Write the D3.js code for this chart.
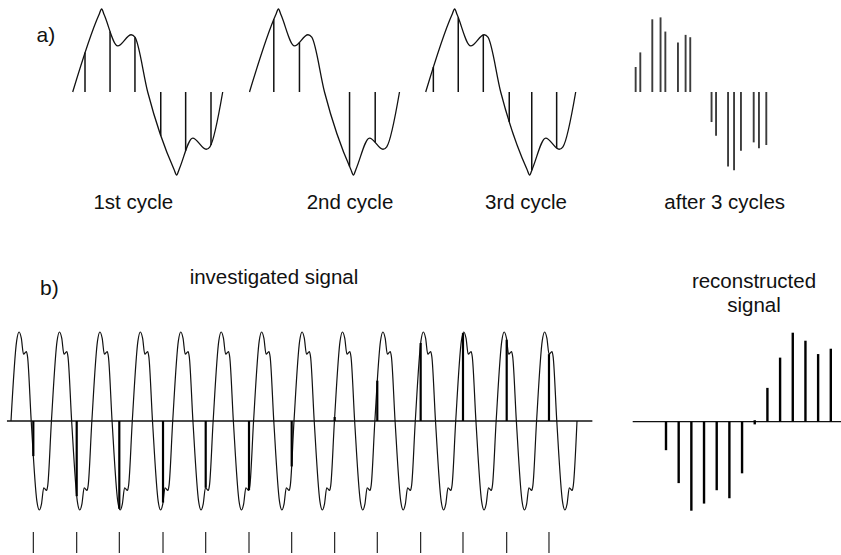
<!DOCTYPE html>
<html><head><meta charset="utf-8">
<script src="https://cdn.jsdelivr.net/npm/d3@7"></script>
<style>
body{margin:0;background:#fff}
svg text{font-family:"Liberation Sans",Arial,Helvetica,sans-serif;fill:#111}
</style>
</head><body>
<svg id="chart" width="841" height="555"></svg>
<script>
// ---------- data ----------
const cycleLabels = ["1st cycle", "2nd cycle", "3rd cycle", "after 3 cycles"];
// one period of the waveform in panel a) : phase (fraction of period) and value
const aPhase = [0, 0.175, 0.193, 0.21, 0.30, 0.39, 0.415, 0.5, 0.675, 0.693, 0.71, 0.80, 0.89, 0.915, 1.0];
const aValue = [0, 0.93, 1.0, 0.93, 0.555, 0.69, 0.66, 0, -0.93, -1.0, -0.93, -0.555, -0.69, -0.66, 0];
// sampling instants (phase) in each of the 3 cycles
const cycle1Samples = [0.082, 0.249, 0.415, 0.587, 0.753, 0.922];
const cycle2Samples = [0.162, 0.333, 0.667, 0.838];
const cycle3Samples = [0.051, 0.217, 0.384, 0.557, 0.707, 0.873];
// one period of the investigated signal in panel b)
const bPhase = [0, 0.14, 0.2, 0.255, 0.31, 0.38, 0.41, 0.5, 0.64, 0.7, 0.755, 0.81, 0.88, 0.91, 1.0];
const bValue = [0, 0.9, 1.0, 0.93, 0.75, 0.78, 0.72, 0, -0.9, -1.0, -0.93, -0.75, -0.78, -0.72, 0];
const bPeriods = 14;
// trigger / sampling times in panel b) (in signal periods)
const triggerTimes = [0.552, 1.625, 2.679, 3.760, 4.816, 5.887, 6.943, 8.006, 9.060, 10.133, 11.180, 12.261, 13.307];
// reconstructed signal samples
const reconValues = [-0.32, -0.69, -1.0, -0.92, -0.77, -0.86, -0.58, -0.03, 0.38, 0.72, 1.0, 0.91, 0.76, 0.82];

// ---------- helpers ----------
const svg = d3.select("#chart");
function yAtX(node, x) {
  let lo = 0, hi = node.getTotalLength();
  for (let i = 0; i < 40; i++) {
    const mid = (lo + hi) / 2;
    const p = node.getPointAtLength(mid);
    if (p.x < x) lo = mid; else hi = mid;
  }
  return node.getPointAtLength((lo + hi) / 2).y;
}
const periodA = aPhase.map((p, i) => ({p, v: aValue[i]}));

// ---------- panel a) ----------
const aBase = 92, aAmp = 83, aWidth = 150;
const yA = d3.scaleLinear().domain([-1, 1]).range([aBase + aAmp, aBase - aAmp]);
const cycleStarts = [72.7, 249.5, 425.7];
const labelCenters = [133.3, 350, 526, 724.7];
const cycleSamples = [cycle1Samples, cycle2Samples, cycle3Samples];
const collected = [];

cycleStarts.forEach((x0, ci) => {
  const xA = d3.scaleLinear().domain([0, 1]).range([x0, x0 + aWidth]);
  const line = d3.line().x(d => xA(d.p)).y(d => yA(d.v)).curve(d3.curveMonotoneX);
  const path = svg.append("path").datum(periodA).attr("d", line)
    .attr("fill", "none").attr("stroke", "#111").attr("stroke-width", 1.3);
  const node = path.node();
  cycleSamples[ci].forEach(ph => {
    const xs = xA(ph);
    const ys = yAtX(node, xs);
    collected.push({ph, ys});
    svg.append("line").attr("x1", xs).attr("x2", xs).attr("y1", yA(0)).attr("y2", ys)
      .attr("stroke", "#111").attr("stroke-width", 1.5);
  });
});

// after 3 cycles
const xAfter = d3.scaleLinear().domain([0, 1]).range([628, 628 + aWidth]);
collected.forEach(s => {
  svg.append("line").attr("x1", xAfter(s.ph)).attr("x2", xAfter(s.ph))
    .attr("y1", yA(0)).attr("y2", s.ys)
    .attr("stroke", "#3c3c3c").attr("stroke-width", 1.9);
});
cycleLabels.forEach((t, i) => {
  svg.append("text").attr("x", labelCenters[i]).attr("y", 208.5).attr("text-anchor", "middle")
    .attr("font-size", 20.5).text(t);
});

svg.append("text").attr("x", 36.5).attr("y", 41.5).attr("font-size", 21).text("a)");

// ---------- panel b) ----------
const bBase = 421, bAmp = 89;
const xB = d3.scaleLinear().domain([0, bPeriods]).range([11, 577]);
const yB = d3.scaleLinear().domain([-1, 1]).range([bBase + bAmp, bBase - bAmp]);
const sig = [];
for (let k = 0; k < bPeriods; k++) {
  bPhase.forEach((p, i) => { if (k === 0 || i > 0) sig.push({t: k + p, v: bValue[i]}); });
}
const lineB = d3.line().x(d => xB(d.t)).y(d => yB(d.v)).curve(d3.curveMonotoneX);
svg.append("line").attr("x1", xB(-0.1)).attr("x2", xB(14.38)).attr("y1", yB(0)).attr("y2", yB(0))
  .attr("stroke", "#111").attr("stroke-width", 1.3);
const pathB = svg.append("path").datum(sig).attr("d", lineB)
  .attr("fill", "none").attr("stroke", "#111").attr("stroke-width", 1.2);
const nodeB = pathB.node();
triggerTimes.forEach(t => {
  const xs = xB(t);
  const ys = yAtX(nodeB, xs);
  svg.append("line").attr("x1", xs).attr("x2", xs).attr("y1", yB(0)).attr("y2", ys)
    .attr("stroke", "#000").attr("stroke-width", 2.2);
  svg.append("line").attr("x1", xs).attr("x2", xs).attr("y1", 532).attr("y2", 553)
    .attr("stroke", "#111").attr("stroke-width", 1.1);
});
svg.append("text").attr("x", 40).attr("y", 294.5).attr("font-size", 21).text("b)");
svg.append("text").attr("x", 274).attr("y", 283.5).attr("text-anchor", "middle")
  .attr("font-size", 20.5).text("investigated signal");

// reconstructed
const xR = d3.scaleLinear().domain([0, reconValues.length - 1]).range([666, 830.8]);
const yR = d3.scaleLinear().domain([-1, 1]).range([421.7 + 89, 421.7 - 89]);
svg.append("line").attr("x1", 632.7).attr("x2", 841).attr("y1", yR(0)).attr("y2", yR(0))
  .attr("stroke", "#111").attr("stroke-width", 1.3);
svg.selectAll("line.recon").data(reconValues).enter().append("line").attr("class", "recon")
  .attr("x1", (d, i) => xR(i)).attr("x2", (d, i) => xR(i))
  .attr("y1", d => yR(0) + (Math.abs(d) < 0.05 ? -1.5 : 0)).attr("y2", d => yR(d))
  .attr("stroke", "#000").attr("stroke-width", 2.4);
const rt = svg.append("text").attr("x", 754).attr("y", 288.3).attr("text-anchor", "middle").attr("font-size", 20.5);
rt.append("tspan").attr("x", 754).text("reconstructed");
rt.append("tspan").attr("x", 754).attr("dy", 23.4).text("signal");
</script>
</body></html>
